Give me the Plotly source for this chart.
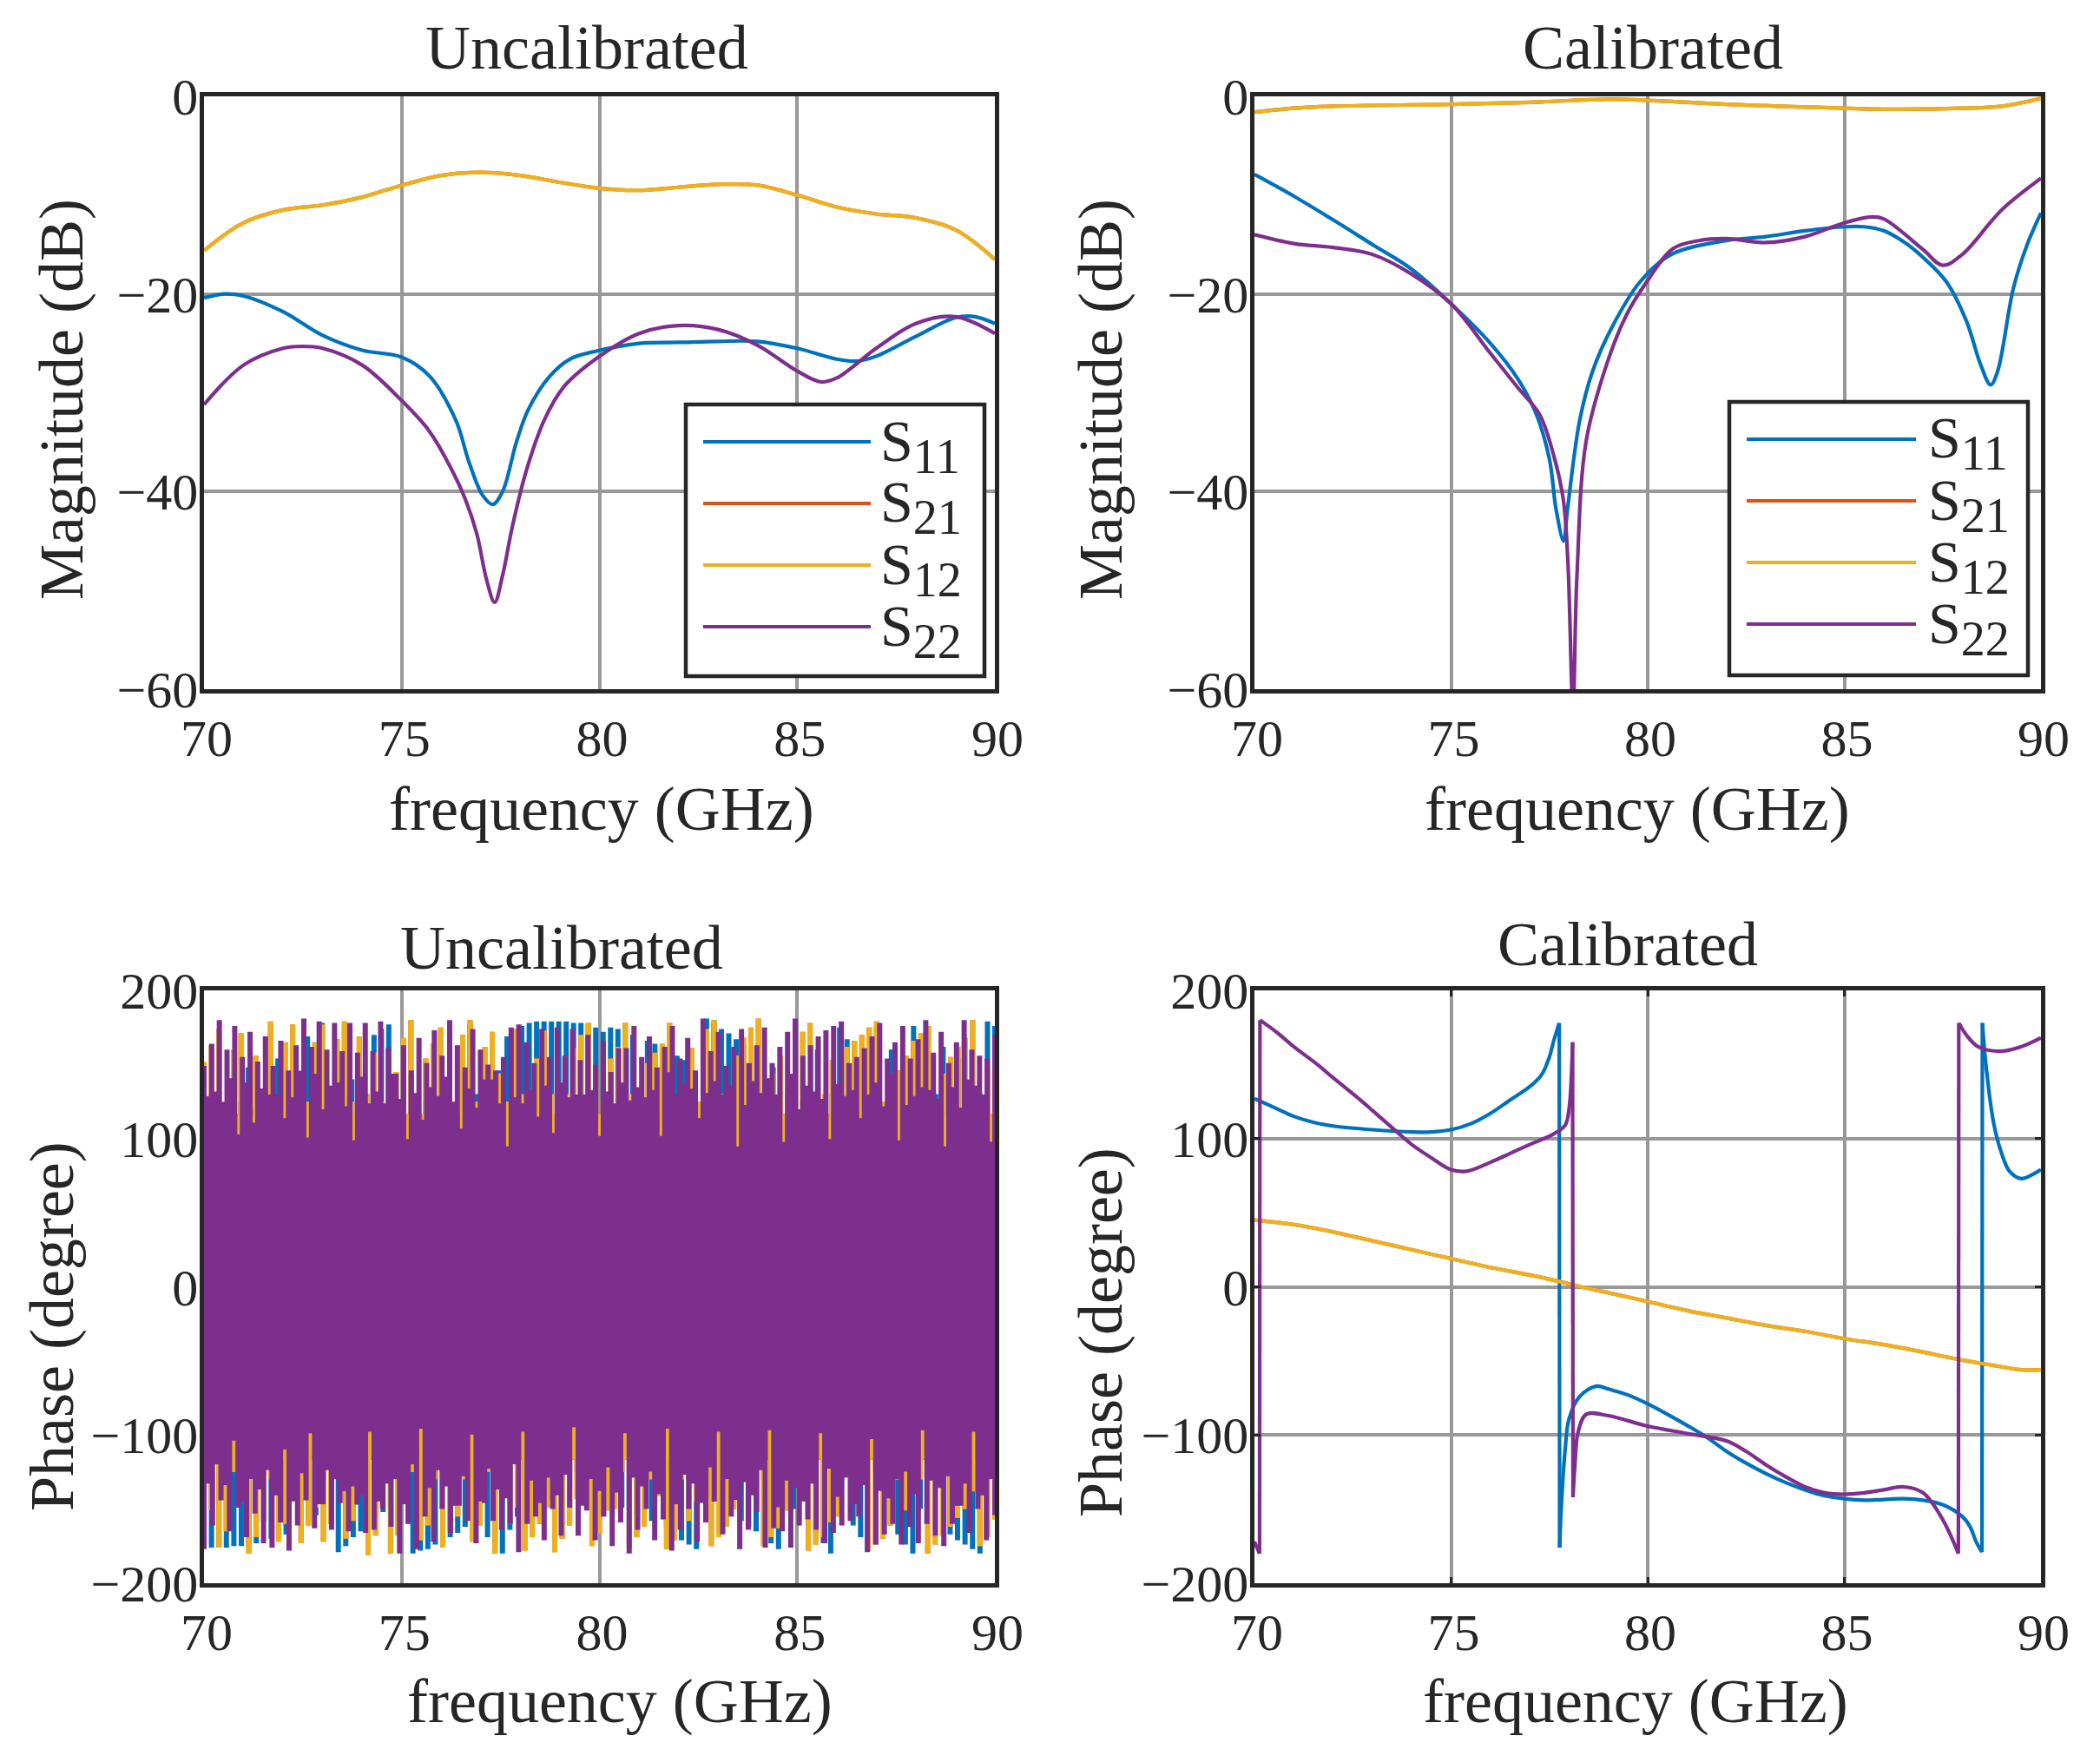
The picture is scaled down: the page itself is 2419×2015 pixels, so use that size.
import numpy as np
import plotly.graph_objects as go

BLUE = '#0072BD'
ORANGE = '#D95319'
YELLOW = '#EDB120'
PURPLE = '#7E2F8E'
INK = '#262626'
GRID = '#999999'
FONT = 'Liberation Serif'
W, H = 2419, 2015

freq_ticks = [70, 75, 80, 85, 90]
freq_labels = ['70', '75', '80', '85', '90']
mag_ticks = [-60, -40, -20, 0]
mag_labels = ['\u221260', '\u221240', '\u221220', '0']
phase_ticks = [-200, -100, 0, 100, 200]
phase_labels = ['\u2212200', '\u2212100', '0', '100', '200']
names = ['S11', 'S21', 'S12', 'S22']
legend_subs = ['11', '21', '12', '22']
colors = [BLUE, ORANGE, YELLOW, PURPLE]

# uncalibrated magnitude
um_f11 = [70, 70.5, 71, 72, 73, 74, 75, 75.7, 76.37, 76.7, 77.05, 77.3, 77.55, 77.9, 78.2, 78.75, 79.25, 79.9, 81, 82, 83, 84, 85, 86, 86.5, 87, 88, 89, 89.5, 90]
um_s11 = [-20.4, -20, -20.2, -21.8, -24.2, -25.7, -26.4, -28.3, -32.8, -37, -40.4, -41.3, -40, -35, -31.7, -28.3, -26.6, -25.8, -25, -24.9, -24.8, -24.8, -25.5, -26.6, -26.8, -26.3, -24.3, -22.4, -22.3, -23]
um_f12 = [70, 71, 72, 73, 74, 75, 76, 77, 78, 79, 80, 81, 82, 83, 84, 85, 86, 87, 88, 89, 90]
um_s12 = [-15.6, -12.8, -11.5, -11, -10.2, -9, -8, -7.7, -8, -8.7, -9.3, -9.5, -9.2, -8.9, -9, -10, -11.2, -11.9, -12.3, -13.5, -16.5]
um_f22 = [70, 71, 72, 72.5, 73, 74, 75, 75.7, 76.2, 76.6, 76.9, 77.15, 77.35, 77.55, 77.8, 78.15, 78.6, 79.1, 79.9, 81, 82, 83, 84, 85, 85.6, 86, 87, 88, 89, 90]
um_s22 = [-31.2, -27.2, -25.5, -25.3, -25.5, -27.2, -30.8, -33.9, -37.3, -40.7, -44.3, -49, -51.2, -48.5, -43.5, -37.9, -32.8, -29.4, -26.6, -24, -23.2, -23.6, -25.2, -27.8, -28.9, -28.5, -25.5, -23, -22.3, -24]

# calibrated magnitude
cm_f11 = [70, 71, 72, 73, 74, 75, 76, 76.7, 77.15, 77.5, 77.67, 77.86, 77.96, 78.27, 78.6, 79.1, 79.8, 80.6, 82, 83, 84, 85, 85.5, 86, 86.5, 87, 87.6, 88.1, 88.47, 88.72, 88.9, 89.3, 89.66, 90]
cm_s11 = [-7.9, -10.1, -12.5, -15, -17.5, -21, -25, -28.6, -32, -36.7, -41.8, -45, -41.8, -32.8, -27.8, -23.3, -18.8, -16, -14.6, -14.2, -13.6, -13.2, -13.2, -13.6, -14.7, -16.3, -18.8, -22.7, -27.2, -29.2, -27.8, -19.4, -14.9, -11.8]
cm_f12 = [70, 71, 72, 75, 77, 79, 80, 82, 85, 86, 88, 89, 90]
cm_s12 = [-1.6, -1.2, -1, -0.8, -0.6, -0.3, -0.4, -0.8, -1.2, -1.3, -1.2, -1, -0.2]
cm_f22 = [70, 71, 72, 73, 74, 75, 76, 76.7, 77.25, 77.6, 77.85, 77.97, 78.1, 78.2, 78.43, 78.95, 79.45, 79.97, 80.65, 81.3, 82, 83, 84, 85, 85.7, 86, 87, 87.5, 88, 89, 90]
cm_s22 = [-14, -14.9, -15.3, -16, -18, -21, -26, -29.5, -32.2, -36.2, -40.7, -47, -62, -48.6, -35, -27.2, -22.2, -18.8, -15.4, -14.6, -14.4, -14.8, -14.2, -12.8, -12.2, -12.4, -15.5, -17.1, -16, -11.5, -8.3]

# calibrated phase, None marks a wrap from one side of the range to the other
cp_f11 = [70, 70.5, 71, 71.5, 72, 73, 74, 74.5, 75, 75.5, 76, 76.5, 77, 77.3, 77.5, 77.6, 77.75, 77.755, 77.76, 77.8, 77.9, 78, 78.27, 78.7, 79, 79.5, 80, 80.5, 81, 81.5, 82, 82.5, 83, 83.5, 84, 84.5, 85, 85.5, 86, 86.5, 87, 87.5, 88, 88.2, 88.35, 88.5, 88.505, 88.51, 88.6, 88.8, 89, 89.2, 89.5, 89.8, 90]
cp_s11 = [127, 121, 115, 111, 108.5, 106, 104.5, 104.5, 106, 110, 117, 126, 135, 143, 155, 165, 178, None, -176, -150, -110, -89, -74, -67, -69, -73, -79, -86, -93.5, -101.5, -111, -119, -126, -132, -137, -141, -143, -144, -143.5, -143, -144, -147, -155, -162, -172, -179, None, 178, 150, 110, 90, 78, 73, 76, 79]
cp_f12 = [70, 71, 72, 73, 74, 75, 76, 77, 78, 78.3, 79, 80, 81, 82, 83, 84, 85, 86, 87, 87.9, 89, 89.5, 90]
cp_s12 = [45, 42, 37, 31, 25, 19, 13, 8, 2, 0, -4, -10, -16, -21, -26, -30, -35, -39, -44, -49, -54, -56, -56]
cp_f22 = [70, 70.13, 70.135, 70.14, 70.6, 71, 71.6, 72, 72.65, 73, 73.6, 74, 74.5, 75, 75.4, 76, 76.5, 77, 77.6, 77.9, 78, 78.09, 78.095, 78.1, 78.15, 78.23, 78.44, 79, 80, 81, 82, 82.5, 83, 83.5, 84, 84.5, 85, 85.5, 86, 86.5, 87, 87.5, 87.9, 87.905, 87.91, 88.1, 88.4, 89, 89.5, 90]
cp_s22 = [-172, -180, None, 180, 171, 162, 150, 141, 127, 119, 105, 96, 87, 79, 78, 84, 90, 96, 103, 109, 120, 165, None, -142, -120, -98, -86, -87, -94, -99, -104, -111, -120, -128, -135, -139, -140, -139, -137, -135, -139, -157, -180, None, 178, 170, 162, 159, 162, 168]

# uncalibrated phase: tall spikes read along the top and bottom of the band
s22_top = [149, 164, 180, 160, 176, 155, 172, 152, 169, 149, 166, 146, 163, 181, 162, 179, 160, 178, 159, 178, 158, 178, 159, 179, 161, 125, 163, 146, 168, 151, 173, 156, 180, 163, 148, 174, 160, 150, 146, 155, 175, 177, 165, 151, 174, 155, 175, 156, 174, 153, 170, 150, 166, 145, 161,
           161, 176, 155, 169, 148, 162, 176, 154, 168, 146, 181, 159, 172, 149, 162, 174, 151, 163, 175, 151, 162, 172, 181, 156, 163, 169, 173, 176, 179, 151, 155, 161, 169, 178, 154, 165, 176, 154, 167, 180, 158, 172, 151, 165, 180, 160, 156, 154, 170]
s22_top_body = [127, 130, 123, 139, 101, 136, 109, 132, 128, 128, 112, 126, 144, 99, 142, 118, 134, 136, 120, 97, 140, 122, 130, 122, 142, 125, 98, 129, 111, 133, 127, 140, 123, 105, 132, 119, 138, 138, 122, 93, 126, 122, 131, 113, 134, 102, 136, 126, 128, 128, 131, 100, 130, 122, 136,
                124, 133, 126, 131, 100, 143, 128, 135, 132, 112, 129, 137, 128, 134, 93, 121, 137, 129, 139, 128, 96, 142, 118, 134, 130, 125, 98, 135, 127, 131, 112, 128, 136, 120, 142, 97, 121, 127, 133, 131, 125, 93, 133, 119, 138, 134, 128, 96, 118]
s22_bot = [-177, -161, -144, -165, -149, -169, -153, -173, -176, -159, -178, -161, -144, -163, -145, -164, -146, -165, -147, -166, -164, -150, -162, -180, -160, -177, -155, -172, -150, -166, -142, -158, -173, -146, -158, -164, -160, -179, -160, -155, -171, -150, -168, -149, -168, -151, -171, -155, -175, -159, -180,
           -164, -150, -171, -157, -178, -164, -150, -172, -159, -145, -167, -155, -177, -164, -152, -176, -163, -165, -176, -161, -157, -164, -173, -166, -161, -158, -155, -179, -174, -167, -160, -174, -162, -173, -160, -168, -175, -160, -145, -166, -150, -171, -154]
s22_bot_body = [-140, -131, -118, -132, -102, -143, -128, -135, -122, -139, -108, -143, -124, -97, -145, -122, -128, -136, -133, -139, -96, -143, -131, -128, -145, -118, -94, -134, -122, -133, -146, -126, -98, -143, -121, -135, -141, -118, -96, -129, -144, -127, -139, -125, -93, -146, -128, -136, -120, -137, -97,
                -127, -133, -123, -138, -94, -145, -125, -131, -144, -120, -96, -128, -142, -130, -139, -122, -95, -147, -129, -134, -143, -131, -97, -121, -140, -127, -145, -132, -101, -136, -141, -128, -123, -138, -95, -129, -134, -126, -146, -131, -96, -139, -128]

s11_top = [146, 130, 120, 125, 115, 125, 148, 120, 130, 152, 154, 130, 125, 135, 169, 130, 178, 125, 135, 130, 140, 145, 130, 170, 174, 177, 120, 130, 144, 120, 125, 130, 125, 130, 120, 125, 177, 130, 135, 125, 146, 169, 173, 176, 178, 179, 179, 179, 179, 179, 178, 178, 177, 175, 172,
           175, 174, 130, 170, 125, 166, 164, 130, 125, 156, 153, 130, 125, 181, 178, 174, 171, 167, 163, 130, 125, 130, 148, 125, 130, 175, 125, 130, 160, 125, 130, 175, 167, 159, 125, 130, 176, 125, 160, 130, 125, 176, 130, 125, 130, 162, 125, 154, 130, 125, 130, 179, 176]
s11_bot = [-176, -176, -176, -176, -175, -175, -174, -173, -130, -170, -125, -167, -130, -135, -158, -154, -130, -125, -179, -175, -169, -165, -130, -156, -152, -149, -125, -130, -180, -178, -177, -174, -172, -169, -166, -162, -157, -148, -169, -174, -180, -164, -155, -130, -146, -130, -144, -125, -130, -135, -125, -130, -125, -130,
           -125, -130, -149, -151, -153, -130, -158, -130, -162, -125, -171, -174, -177, -130, -144, -125, -130, -125, -158, -162, -165, -130, -173, -177, -125, -150, -130, -125, -167, -173, -180, -130, -125, -161, -169, -178, -125, -130, -160, -167, -174, -180, -150, -125, -130, -125, -167, -171, -174, -177, -180, -130, -125]

s12_top = [152, 163, 174, 125, 160, 171, 125, 156, 130, 179, 125, 165, 177, 130, 125, 165, 177, 130, 167, 179, 125, 169, 130, 158, 125, 130, 145, 168, 180, 125, 154, 164, 175, 130, 125, 170, 180, 125, 162, 172, 144, 125, 174, 130, 125, 154, 173, 130, 125, 130, 161, 170, 178, 146, 125,
           154, 162, 178, 130, 125, 151, 158, 164, 178, 125, 130, 161, 125, 174, 180, 130, 125, 156, 168, 175, 181, 125, 144, 156, 130, 167, 172, 178, 125, 130, 153, 125, 162, 166, 170, 175, 179, 125, 130, 146, 156, 166, 171, 176, 125, 144, 155, 162, 168, 180, 125, 149, 130]
s12_bot = [-176, -151, -176, -165, -125, -130, -180, -169, -158, -130, -172, -160, -125, -173, -161, -149, -172, -160, -125, -170, -158, -130, -181, -168, -125, -180, -168, -130, -125, -171, -161, -130, -176, -165, -155, -130, -172, -161, -125, -180, -130, -160, -149, -178, -169, -160, -149, -179, -170, -161, -143, -125, -175, -166,
           -151, -150, -125, -176, -169, -162, -130, -141, -177, -171, -130, -158, -145, -130, -175, -169, -162, -150, -125, -130, -130, -175, -169, -163, -151, -130, -125, -178, -174, -169, -159, -155, -125, -130, -125, -178, -174, -170, -161, -130, -151, -125, -130, -180, -174, -168, -162, -156, -150, -138, -175, -169, -157]

BASE = 115


def band(top, top_body, bot, bot_body):
    # closed outline of a dense trace: one vertical spike per value, flat notch to the next
    xs, ys = [], []
    ft = np.linspace(70, 90, len(top))
    for i, (p, b) in enumerate(zip(top, top_body)):
        xs += [ft[i], ft[i], ft[min(i + 1, len(top) - 1)]]
        ys += [p, b, b]
    fb = np.linspace(90, 70, len(bot))
    for i, (p, b) in enumerate(zip(bot[::-1], bot_body[::-1])):
        xs += [fb[i], fb[i], fb[min(i + 1, len(bot) - 1)]]
        ys += [p, b, b]
    return xs + xs[:1], ys + ys[:1]


def wraps(f, v):
    # straight joins across the gaps left at each None
    xs, ys = [], []
    for i, val in enumerate(v):
        if val is None:
            xs += [f[i - 1], f[i + 1], None]
            ys += [v[i - 1], v[i + 1], None]
    return xs, ys


fig = go.Figure()


def add_lines(pos, curves):
    for (f, v), color, name in zip(curves, colors, names):
        fig.add_trace(go.Scatter(x=f, y=v, mode='lines', name=name, showlegend=False,
                                 line=dict(color=color, width=4.2, shape='spline', smoothing=1.0),
                                 xaxis='x' + pos, yaxis='y' + pos))
        wx, wy = wraps(f, v)
        if wx:
            fig.add_trace(go.Scatter(x=wx, y=wy, mode='lines', name=name, showlegend=False,
                                     line=dict(color=color, width=4.2), xaxis='x' + pos, yaxis='y' + pos))


add_lines('', [(um_f11, um_s11), (um_f12, um_s12), (um_f12, um_s12), (um_f22, um_s22)])
add_lines('2', [(cm_f11, cm_s11), (cm_f12, cm_s12), (cm_f12, cm_s12), (cm_f22, cm_s22)])

# dense phase traces, S21 sits under S12
for top, top_body, bot, bot_body, color, name in [
        (s11_top, [BASE] * len(s11_top), s11_bot, [-BASE] * len(s11_bot), BLUE, names[0]),
        (s12_top, [BASE] * len(s12_top), s12_bot, [-BASE] * len(s12_bot), ORANGE, names[1]),
        (s12_top, [BASE] * len(s12_top), s12_bot, [-BASE] * len(s12_bot), YELLOW, names[2]),
        (s22_top, s22_top_body, s22_bot, s22_bot_body, PURPLE, names[3])]:
    x, y = band(top, top_body, bot, bot_body)
    fig.add_trace(go.Scatter(x=x, y=y, mode='lines', line=dict(color=color, width=6), fill='toself',
                             fillcolor=color, name=name, xaxis='x3', yaxis='y3', showlegend=False,
                             cliponaxis=False))

add_lines('4', [(cp_f11, cp_s11), (cp_f12, cp_s12), (cp_f12, cp_s12), (cp_f22, cp_s22)])

tick_font = dict(family=FONT, size=60, color=INK)


def x_axis(left, right, anchor, shift):
    return dict(domain=[left / W, right / W], range=[70, 90], anchor=anchor, tickmode='array',
                tickvals=freq_ticks, ticktext=freq_labels, tickfont=tick_font, ticklabelshift=shift,
                ticks='', showgrid=True, gridcolor=GRID, gridwidth=3.5, showline=True, linecolor=INK,
                linewidth=4.5, mirror=True, zeroline=False)


def y_axis(top, bottom, anchor, rng, vals, text):
    return dict(domain=[1 - bottom / H, 1 - top / H], range=rng, anchor=anchor, tickmode='array',
                tickvals=vals, ticktext=text, tickfont=tick_font, ticklabelstandoff=-10, ticks='', showgrid=True,
                gridcolor=GRID, gridwidth=3.5, showline=True, linecolor=INK, linewidth=4.5,
                mirror=True, zeroline=False)


XL, XR = (235, 1146), (1445, 2351)
YT, YB = (111, 794), (1141, 1824)

fig.update_layout(
    width=W, height=H, autosize=False, showlegend=False,
    margin=dict(l=0, r=0, t=0, b=0, autoexpand=False), paper_bgcolor='white', plot_bgcolor='white',
    xaxis=x_axis(*XL, 'y', 3), yaxis=y_axis(*YT, 'x', [-60, 0], mag_ticks, mag_labels),
    xaxis2=x_axis(*XR, 'y2', 3), yaxis2=y_axis(*YT, 'x2', [-60, 0], mag_ticks, mag_labels),
    xaxis3=x_axis(*XL, 'y3', 3), yaxis3=y_axis(*YB, 'x3', [-200, 200], phase_ticks, phase_labels),
    xaxis4=x_axis(*XR, 'y4', 3), yaxis4=y_axis(*YB, 'x4', [-200, 200], phase_ticks, phase_labels),
)
fig.update_layout(xaxis3_layer='below traces', yaxis3_layer='below traces')
fig.update_layout(xaxis4=dict(ticks='inside', ticklen=7, tickwidth=3, tickcolor=INK, mirror='ticks'),
                  yaxis4=dict(ticks='inside', ticklen=7, tickwidth=3, tickcolor=INK, mirror='ticks'))

# legend boxes: the rows are tighter than the built-in legend can set them
legend_boxes = [(790, 466, 1134, 779, 810, 1003, 1012), (1992, 463, 2336, 778, 2012, 2207, 2219)]
row_offsets = [43, 114, 185, 256]
for x0, y0, x1, y1, lx0, lx1, tx in legend_boxes:
    fig.add_shape(type='rect', xref='paper', yref='paper', x0=x0 / W, x1=x1 / W, y0=1 - y0 / H, y1=1 - y1 / H,
                  fillcolor='white', line=dict(color=INK, width=4.5), layer='above')
    for off, color, sub in zip(row_offsets, colors, legend_subs):
        fig.add_shape(type='line', xref='paper', yref='paper', x0=lx0 / W, x1=lx1 / W,
                      y0=1 - (y0 + off) / H, y1=1 - (y0 + off) / H, line=dict(color=color, width=4.2), layer='above')
        fig.add_annotation(text=f'S<sub><span style="font-size:56px">{sub}</span></sub>', x=tx / W,
                           y=1 - (y0 + off + 4) / H, xref='paper', yref='paper', xanchor='left', yanchor='middle',
                           showarrow=False, font=dict(family=FONT, size=68, color=INK))

# titles and axis labels sit at different offsets in each panel
labels = [
    ('Uncalibrated', 676, 55, 0), ('Calibrated', 1904, 55, 0),
    ('Uncalibrated', 647, 1092, 0), ('Calibrated', 1875, 1088, 0),
    ('frequency (GHz)', 693, 932, 0), ('frequency (GHz)', 1886, 932, 0),
    ('frequency (GHz)', 714, 1960, 0), ('frequency (GHz)', 1884, 1960, 0),
    ('Magnitude (dB)', 71, 460, -90), ('Magnitude (dB)', 1268, 460, -90),
    ('Phase (degree)', 60, 1528, -90), ('Phase (degree)', 1268, 1535, -90),
]
for text, px, py, angle in labels:
    fig.add_annotation(text=text, x=px / W, y=1 - py / H, xref='paper', yref='paper', xanchor='center',
                       yanchor='middle', showarrow=False, textangle=angle,
                       font=dict(family=FONT, size=72, color=INK))

# the default page margin would push the fixed-size figure off the window
fig.write_html('out.html', config={'displayModeBar': False}, post_script='document.body.style.margin = "0";')
